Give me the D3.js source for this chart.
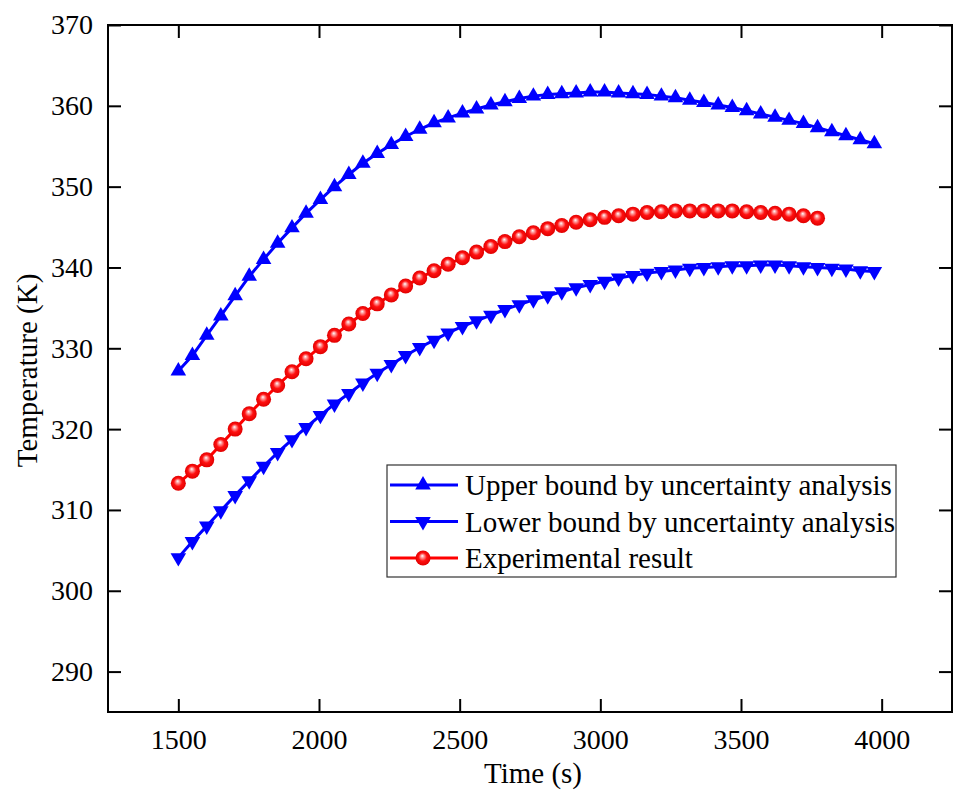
<!doctype html>
<html lang="en">
<head>
  <meta charset="utf-8">
  <title>Temperature vs time</title>
  <style>
    body { margin: 0; background: #fff; }
    svg text { font-family: "Liberation Serif", "Times New Roman", serif; fill: #000; }
  </style>
</head>
<body>
<svg id="chart" width="956" height="796"></svg>

<script src="https://d3js.org/d3.v7.min.js"></script>
<script>
    // sample times (s)
    var times = [1500, 1550, 1601, 1651, 1702, 1752, 1803, 1853, 1904, 1954,
                 2005, 2055, 2106, 2156, 2207, 2257, 2308, 2358, 2409, 2459,
                 2510, 2560, 2611, 2661, 2712, 2762, 2813, 2863, 2914, 2964,
                 3015, 3065, 3116, 3166, 3217, 3267, 3318, 3368, 3419, 3469,
                 3520, 3570, 3621, 3671, 3722, 3772, 3823, 3873, 3924, 3974];

    var upper = [327.2, 329.1, 331.6, 334.0, 336.5, 338.9, 341.0, 343.0, 344.9, 346.7,
                 348.4, 350.0, 351.5, 352.9, 354.1, 355.2, 356.2, 357.1, 357.9, 358.5,
                 359.1, 359.6, 360.1, 360.5, 360.9, 361.2, 361.4, 361.5, 361.6, 361.7,
                 361.7, 361.6, 361.5, 361.4, 361.2, 361.0, 360.7, 360.4, 360.1, 359.8,
                 359.4, 359.0, 358.6, 358.2, 357.8, 357.3, 356.8, 356.3, 355.8, 355.3];

    var lower = [304.1, 306.1, 308.0, 309.9, 311.8, 313.6, 315.4, 317.1, 318.7, 320.2,
                 321.7, 323.1, 324.4, 325.7, 326.9, 328.0, 329.1, 330.1, 331.0, 331.9,
                 332.7, 333.4, 334.1, 334.8, 335.4, 336.0, 336.5, 337.0, 337.5, 337.9,
                 338.3, 338.7, 339.0, 339.3, 339.5, 339.7, 339.9, 340.0, 340.1, 340.2,
                 340.2, 340.3, 340.3, 340.2, 340.1, 340.0, 339.9, 339.8, 339.6, 339.5];

    // experiment stops earlier (46 samples)
    var experiment = [313.3, 314.8, 316.2, 318.1, 320.0, 321.9, 323.7, 325.4, 327.1, 328.7,
                      330.2, 331.6, 333.0, 334.3, 335.5, 336.6, 337.7, 338.7, 339.6, 340.4,
                      341.2, 341.9, 342.6, 343.2, 343.8, 344.3, 344.8, 345.2, 345.6, 345.9,
                      346.2, 346.4, 346.6, 346.8, 346.9, 347.0, 347.0, 347.0, 347.0, 347.0,
                      346.9, 346.8, 346.7, 346.6, 346.4, 346.1];

    var xTicks = [1500, 2000, 2500, 3000, 3500, 4000];
    var yTicks = [290, 300, 310, 320, 330, 340, 350, 360, 370];
    var legendLabels = ["Upper bound by uncertainty analysis",
                        "Lower bound by uncertainty analysis",
                        "Experimental result"];

    var svg = d3.select("#chart");
    var pl = 108, pr = 952, pt = 25, pb = 712;

    var x = d3.scaleLinear().domain([1250, 4250]).range([pl, pr]);
    var y = d3.scaleLinear().domain([285, 370]).range([pb, pt]);

    // sphere shading for the red markers
    var defs = svg.append("defs");
    var grad = defs.append("radialGradient").attr("id", "ball")
        .attr("cx", "0.5").attr("cy", "0.5").attr("r", "0.5")
        .attr("fx", "0.45").attr("fy", "0.35");
    grad.append("stop").attr("offset", "0%").attr("stop-color", "#ffffff");
    grad.append("stop").attr("offset", "22%").attr("stop-color", "#ff9a9a");
    grad.append("stop").attr("offset", "55%").attr("stop-color", "#ff1010");
    grad.append("stop").attr("offset", "100%").attr("stop-color", "#e00000");

    // axes: major ticks inward on every side, minor ticks in between
    function drawAxis(axisFn, scale, pos, major, minor, labels) {
        var g = svg.append("g").attr("transform", pos);
        g.call(axisFn(scale).tickValues(minor).tickSize(-7).tickFormat(""));
        g.call(axisFn(scale).tickValues(major).tickSize(-13).tickPadding(labels ? 21 : 0)
            .tickFormat(labels ? d3.format("d") : ""));
        g.selectAll(".domain").remove();
        g.selectAll("line").attr("stroke", "#000").attr("stroke-width", 2);
        g.selectAll("text").attr("font-size", 28).attr("font-family", "Liberation Serif").attr("fill", "#000");
        return g;
    }
    var xMinor = d3.range(1250, 4251, 250).filter(function(d) { return xTicks.indexOf(d) < 0; });
    var yMinor = d3.range(285, 371, 5).filter(function(d) { return yTicks.indexOf(d) < 0; });

    var gb = drawAxis(d3.axisBottom, x, "translate(0," + pb + ")", xTicks, xMinor, true);
    gb.selectAll("text").attr("dy", "0.71em").attr("y", 17);
    drawAxis(d3.axisTop, x, "translate(0," + pt + ")", xTicks, xMinor, false);
    var gl = drawAxis(d3.axisLeft, y, "translate(" + pl + ",0)", yTicks, yMinor, true);
    gl.selectAll("text").attr("x", -15);
    drawAxis(d3.axisRight, y, "translate(" + pr + ",0)", yTicks, yMinor, false);

    svg.append("rect").attr("x", pl).attr("y", pt)
        .attr("width", pr - pl).attr("height", pb - pt)
        .attr("fill", "none").attr("stroke", "#000").attr("stroke-width", 2);

    // axis titles
    svg.append("text").attr("x", 533).attr("y", 783)
        .attr("text-anchor", "middle").attr("font-size", 29).text("Time (s)");
    svg.append("text").attr("transform", "translate(37," + ((pt + pb) / 2 + 2) + ") rotate(-90)")
        .attr("text-anchor", "middle").attr("font-size", 29).text("Temperature (K)");

    var tri = d3.symbol().type(d3.symbolTriangle).size(105);
    function series(vals, color, marker) {
        var pts = vals.map(function(v, i) { return [times[i], v]; });
        var g = svg.append("g");
        g.append("path").datum(pts)
            .attr("d", d3.line().x(function(d) { return x(d[0]); }).y(function(d) { return y(d[1]); }))
            .attr("fill", "none").attr("stroke", color).attr("stroke-width", 3);
        marker(g.selectAll(".m").data(pts).enter());
    }
    function upTri(sel) {
        sel.append("path").attr("d", tri)
            .attr("transform", function(d) { return "translate(" + x(d[0]) + "," + y(d[1]) + ")"; })
            .attr("fill", "#0000ff");
    }
    function downTri(sel) {
        sel.append("path").attr("d", tri)
            .attr("transform", function(d) { return "translate(" + x(d[0]) + "," + y(d[1]) + ") rotate(180)"; })
            .attr("fill", "#0000ff");
    }
    function ball(sel) {
        sel.append("circle").attr("cx", function(d) { return x(d[0]); })
            .attr("cy", function(d) { return y(d[1]); })
            .attr("r", 7.5).attr("fill", "url(#ball)");
    }

    series(upper, "#0000ff", upTri);
    series(lower, "#0000ff", downTri);
    series(experiment, "#ff0000", ball);

    // legend
    var lg = svg.append("g");
    lg.append("rect").attr("x", 387).attr("y", 465).attr("width", 509).attr("height", 112)
        .attr("fill", "#fff").attr("stroke", "#333").attr("stroke-width", 1.2);
    var markers = [upTri, downTri, ball];
    var colors = ["#0000ff", "#0000ff", "#ff0000"];
    legendLabels.forEach(function(lab, i) {
        var ry = 485 + i * 36.5;
        lg.append("line").attr("x1", 390).attr("x2", 458).attr("y1", ry).attr("y2", ry)
            .attr("stroke", colors[i]).attr("stroke-width", 3);
        var g = lg.append("g");
        markers[i](g.selectAll(".m").data([[x.invert(423), y.invert(ry)]]).enter());
        lg.append("text").attr("x", 465).attr("y", ry).attr("dy", "0.35em")
            .attr("font-size", 29).text(lab);
    });
</script>
</body>
</html>
